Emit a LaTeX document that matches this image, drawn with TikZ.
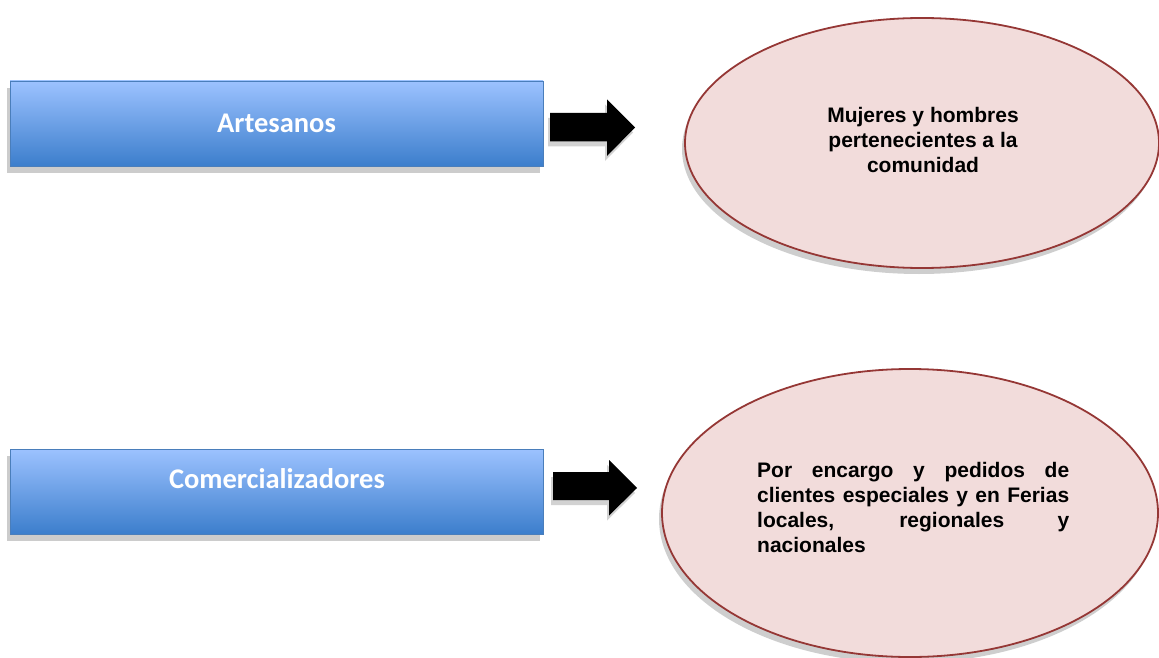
\documentclass[tikz,border=0pt]{standalone}
\usepackage{fontspec}
\newfontfamily\boxfont{Carlito}
\newfontfamily\ellfont{Liberation Sans}
\usetikzlibrary{shapes.geometric,shadows}
\definecolor{boxtop}{RGB}{156,194,255}
\definecolor{boxbot}{RGB}{60,126,204}
\definecolor{boxline}{RGB}{74,126,187}
\definecolor{ellfill}{RGB}{242,220,219}
\definecolor{ellline}{RGB}{149,55,53}
\tikzset{
  bluebox/.style={rectangle, draw=boxline, line width=0.8pt, top color=boxtop, bottom color=boxbot,
    minimum width=533pt, minimum height=85pt, inner sep=0pt,
    drop shadow={shadow xshift=-3pt, shadow yshift=-7pt, fill=black!40}},
  boxtext/.style={text=white, font=\boxfont\bfseries\fontsize{28.5}{32}\selectfont, inner sep=0pt, anchor=base},
  pinkell/.style={ellipse, draw=ellline, line width=1.8pt, fill=ellfill, inner sep=0pt,
    drop shadow={shadow xshift=-3pt, shadow yshift=-6pt, fill=black!38}},
  elltext/.style={font=\ellfont\bfseries\fontsize{21}{25}\selectfont, inner sep=0pt},
  blockarrow/.style={fill=black, draw=none,
    drop shadow={shadow xshift=-2pt, shadow yshift=-5pt, fill=black!35}}
}
\begin{document}
\begin{tikzpicture}[x=1pt,y=-1pt]
\useasboundingbox (0,0) rectangle (1159,658);
% boxes
\node[bluebox] (art) at (276.5,123.5) {};
\node[boxtext] (artT) at (276.5,133) {Artesanos};
\node[bluebox] (com) at (276.5,491.5) {};
\node[boxtext] (comT) at (277,488) {Comercializadores};
% ellipses
\node[pinkell, minimum width=474pt, minimum height=250pt] (e1) at (922,143) {};
\node[elltext, align=center, anchor=north] (e1T) at (923,107)
  {Mujeres y hombres\\pertenecientes a la\\comunidad};
\node[pinkell, minimum width=496pt, minimum height=288pt] (e2) at (910,513) {};
\node[elltext, align=left, anchor=north west] (e2T) at (757,462)
  {\makebox[312pt][s]{Por encargo y pedidos de}\\
   \makebox[312pt][s]{clientes especiales y en Ferias}\\
   \makebox[312pt][s]{locales, regionales y}\\
   nacionales};
% block arrows
\coordinate (a1) at (550,127.5);
\fill[blockarrow] (a1) ++(0,-14.5) -- ++(57,0) -- ++(0,-13.5) -- ++(28,28) -- ++(-28,28.5) -- ++(0,-14.5) -- ++(-57,0) -- cycle;
\coordinate (a2) at (553,486);
\fill[blockarrow] (a2) ++(0,-14) -- ++(56,0) -- ++(0,-12) -- ++(28,28) -- ++(-28,27.5) -- ++(0,-15.5) -- ++(-56,0) -- cycle;
\end{tikzpicture}
\end{document}
